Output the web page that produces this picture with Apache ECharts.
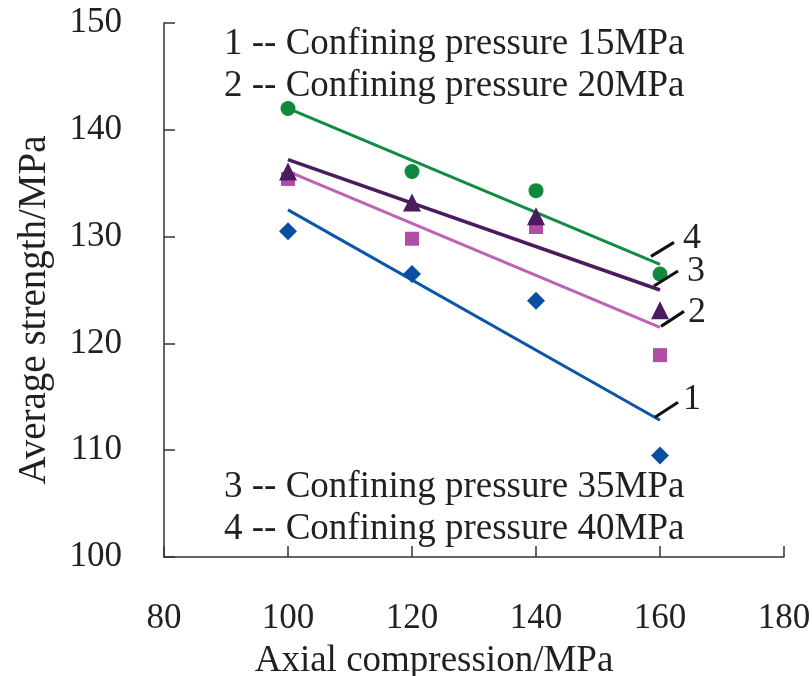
<!DOCTYPE html>
<html><head><meta charset="utf-8">
<script src="https://cdn.jsdelivr.net/npm/echarts@6/dist/echarts.min.js"></script>
<style>html,body{margin:0;padding:0;background:#fff}#c{width:812px;height:676px}</style>
</head><body><div id="c"></div><script>
// ---- data ----
const axialX = [100, 120, 140, 160];
const s1 = [130.5, 126.5, 124.0, 109.5];   // confining 15MPa
const s2 = [135.4, 129.8, 130.9, 118.9];   // confining 20MPa
const s3 = [136.1, 133.2, 131.9, 123.1];   // confining 35MPa
const s4 = [142.0, 136.1, 134.3, 126.5];   // confining 40MPa
const fitX = [100, 160];
const fit1 = [132.5, 112.8];
const fit2 = [136.1, 121.5];
const fit3 = [137.2, 125.0];
const fit4 = [142.0, 127.4];
const curveLabels = ['1', '2', '3', '4'];
const legendTop = ['1 -- Confining pressure 15MPa', '2 -- Confining pressure 20MPa'];
const legendBottom = ['3 -- Confining pressure 35MPa', '4 -- Confining pressure 40MPa'];
const xName = 'Axial compression/MPa';
const yName = 'Average strength/MPa';

// ---- style ----
const FONT = '"Liberation Serif","Times New Roman",serif';
const colors = {
  c1: '#0b4fa3', c2: '#b04ea6', c3: '#4a1c5f', c4: '#0f8a3c',
  l1: '#0d55a8', l2: '#c061b6', l3: '#4a1c5f', l4: '#138c42'
};
const pair = (xs, ys) => xs.map((x, i) => [x, ys[i]]);
const axisCommon = {
  axisLine: { show: true, lineStyle: { color: '#333', width: 1.5 } },
  axisTick: { show: true, inside: true, length: 11, lineStyle: { color: '#333', width: 1.5 } },
  splitLine: { show: false },
  axisLabel: { fontFamily: FONT, fontSize: 35, color: '#231f20' },
  nameTextStyle: { fontFamily: FONT, fontSize: 37, color: '#231f20' }
};

const chart = echarts.init(document.getElementById('c'), null, { renderer: 'canvas' });
const lineS = (d, c, w) => ({ type: 'line', data: d, symbol: 'none', lineStyle: { color: c, width: w }, z: 2, silent: true });
const scat = (d, c, sym, sz) => ({ type: 'scatter', data: d, symbol: sym, symbolSize: sz, itemStyle: { color: c, opacity: 1 }, z: 3 });

chart.setOption({
  animation: false,
  backgroundColor: '#fff',
  grid: { left: 164, right: 28, top: 23, bottom: 119, containLabel: false, outerBoundsMode: 'none' },
  xAxis: Object.assign({}, axisCommon, {
    type: 'value', min: 80, max: 180, interval: 20,
    name: xName, nameLocation: 'middle', nameGap: 86,
    nameTextStyle: Object.assign({}, axisCommon.nameTextStyle, { padding: [0, 80, 0, 0] }),
    axisLabel: Object.assign({}, axisCommon.axisLabel, { margin: 44 })
  }),
  yAxis: Object.assign({}, axisCommon, {
    type: 'value', min: 100, max: 150, interval: 10,
    name: yName, nameLocation: 'middle', nameGap: 110,
    nameTextStyle: Object.assign({}, axisCommon.nameTextStyle, { fontSize: 39, padding: [0, 40, 0, 0] }),
    axisLabel: Object.assign({}, axisCommon.axisLabel, { margin: 42 })
  }),
  series: [
    lineS(pair(fitX, fit1), colors.l1, 3),
    lineS(pair(fitX, fit2), colors.l2, 3),
    lineS(pair(fitX, fit3), colors.l3, 3.5),
    lineS(pair(fitX, fit4), colors.l4, 3),
    scat(pair(axialX, s1), colors.c1, 'diamond', 18),
    scat(pair(axialX, s2), colors.c2, 'rect', 14),
    scat(pair(axialX, s3), colors.c3, 'triangle', 18),
    scat(pair(axialX, s4), colors.c4, 'circle', 15)
  ]
});

// ---- annotations: curve numbers with leader lines, legend text ----
const fitEnds = [fit1[1], fit2[1], fit3[1], fit4[1]];
const leader = [ // pixel offsets from the fit-line end: [x0,y0,x1,y1,tx,ty]
  [-5, -3, 18, -18, 32, -21],
  [1, -1, 24, -16, 37, -15],
  [-6, -4, 18, -19, 36, -18],
  [-9, -8, 14, -22, 32, -26]
];
const g = [];
fitEnds.forEach((v, i) => {
  const p = chart.convertToPixel({ xAxisIndex: 0, yAxisIndex: 0 }, [fitX[1], v]);
  const o = leader[i];
  g.push({ type: 'line', shape: { x1: p[0] + o[0], y1: p[1] + o[1], x2: p[0] + o[2], y2: p[1] + o[3] },
           style: { stroke: '#111', lineWidth: 3 }, z: 10 });
  g.push({ type: 'text', x: p[0] + o[4], y: p[1] + o[5], z: 10,
           style: { text: curveLabels[i], font: '36px ' + FONT, fill: '#231f20', textAlign: 'center', textVerticalAlign: 'middle' } });
});
const legY = [44, 86];
legendTop.forEach((t, i) => g.push({ type: 'text', x: 224, y: legY[i], z: 10,
  style: { text: t, font: '37px ' + FONT, fill: '#231f20', textVerticalAlign: 'middle' } }));
const legY2 = [487, 529];
legendBottom.forEach((t, i) => g.push({ type: 'text', x: 224, y: legY2[i], z: 10,
  style: { text: t, font: '37px ' + FONT, fill: '#231f20', textVerticalAlign: 'middle' } }));
chart.setOption({ graphic: g });
</script></body></html>
